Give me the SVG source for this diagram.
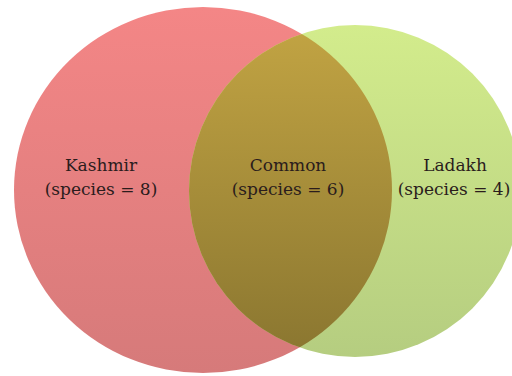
<svg xmlns="http://www.w3.org/2000/svg" width="512" height="376" viewBox="0 0 512 376">
<defs>
<linearGradient id="gr" x1="0" y1="0" x2="0" y2="1"><stop offset="0" stop-color="#f48686"/><stop offset="1" stop-color="#d67a7a"/></linearGradient>
<linearGradient id="gg" x1="0" y1="0" x2="0" y2="1"><stop offset="0" stop-color="#d3ec8c"/><stop offset="1" stop-color="#b5cd80"/></linearGradient>
<linearGradient id="go" x1="0" y1="0" x2="0" y2="1"><stop offset="0" stop-color="#c2a443"/><stop offset="1" stop-color="#8a7630"/></linearGradient>
<clipPath id="cr"><ellipse cx="203" cy="190" rx="189" ry="183"/></clipPath>
<style>
.t{font-family:"DejaVu Serif",serif;font-size:17px;fill:#2a1c1c;text-anchor:middle}
</style>
</defs>
<g id="kashmir">
<ellipse cx="203" cy="190" rx="189" ry="183" fill="url(#gr)"/>
</g>
<g id="ladakh">
<circle cx="355" cy="191" r="166" fill="url(#gg)"/>
</g>
<g id="common">
<circle cx="355" cy="191" r="166" fill="url(#go)" clip-path="url(#cr)"/>
</g>
<g id="labels">
<text class="t" x="101" y="171">Kashmir</text>
<text class="t" x="101" y="195">(species = 8)</text>
<text class="t" x="288" y="171">Common</text>
<text class="t" x="288" y="195">(species = 6)</text>
<text class="t" x="455" y="171">Ladakh</text>
<text class="t" x="454" y="195">(species = 4)</text>
</g>
</svg>
